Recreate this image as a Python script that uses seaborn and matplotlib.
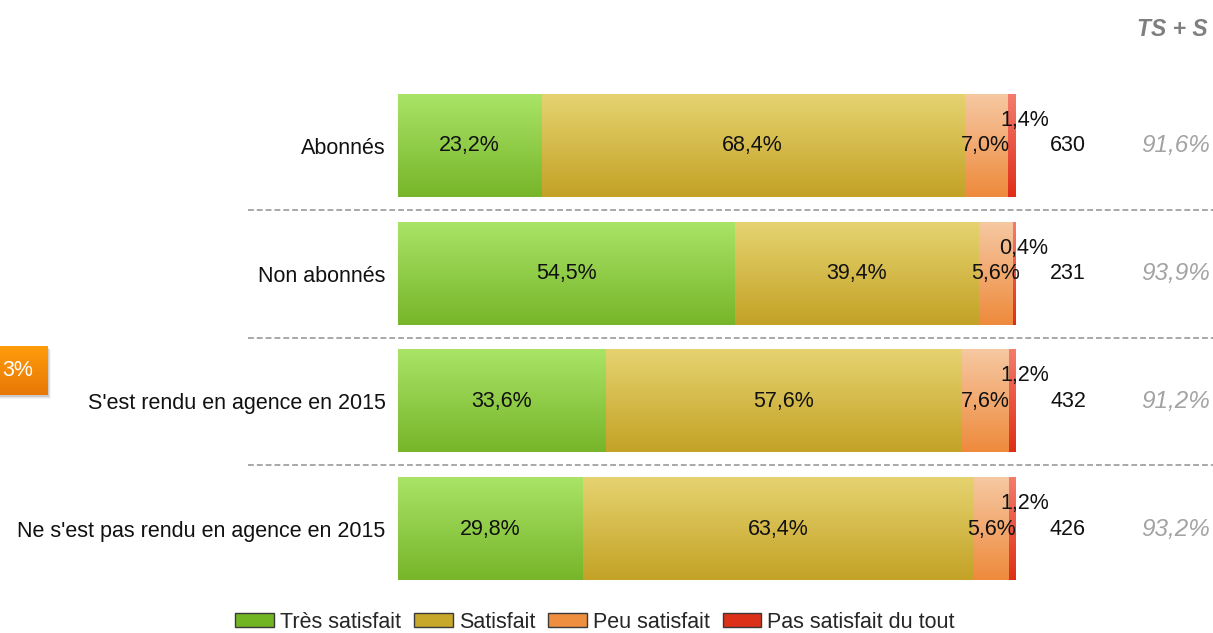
import numpy as np
import pandas as pd
import matplotlib
matplotlib.use("Agg")
import matplotlib.pyplot as plt
import matplotlib.transforms as mtransforms
from matplotlib.colors import LinearSegmentedColormap
from matplotlib.patches import Patch, Rectangle
import seaborn as sns

# --- data -------------------------------------------------------------
groups = ["Abonnés", "Non abonnés", "S'est rendu en agence en 2015",
          "Ne s'est pas rendu en agence en 2015"]
levels = ["Très satisfait", "Satisfait", "Peu satisfait", "Pas satisfait du tout"]
tres_satisfait = [23.2, 54.5, 33.6, 29.8]
satisfait = [68.4, 39.4, 57.6, 63.4]
peu_satisfait = [7.0, 5.6, 7.6, 5.6]
pas_satisfait = [1.4, 0.4, 1.2, 1.2]
effectifs = [630, 231, 432, 426]

# gradient (top, bottom) per level and flat legend colours
grad_colors = [("#a9e466", "#77b52a"), ("#e6d370", "#c3a226"),
               ("#f6c8a2", "#ee8a3c"), ("#f47c6c", "#de2e18")]
legend_colors = ["#72b523", "#c8a82a", "#ee8f40", "#dc3018"]


def fmt(v):
    return f"{v:.1f}".replace(".", ",") + "%"


sns.set_theme(style="white")
plt.rcParams["font.family"] = ["Liberation Sans", "DejaVu Sans"]

W, H = 1213, 633
fig = plt.figure(figsize=(W / 100, H / 100), dpi=100)
ax = fig.add_axes([398 / W, 40 / H, 618 / W, 511 / H])

values = np.array([tres_satisfait, satisfait, peu_satisfait, pas_satisfait])
cum = np.cumsum(values, axis=0)

# stacked bars: cumulative totals drawn from the widest to the narrowest
z = 2
for li in range(len(levels) - 1, -1, -1):
    df = pd.DataFrame({"groupe": groups, "cumul": cum[li]})
    n_before = len(ax.patches)
    sns.barplot(data=df, y="groupe", x="cumul", orient="h", ax=ax,
                color=legend_colors[li], saturation=1, width=0.8,
                edgecolor="none", linewidth=0, errorbar=None)
    cmap = LinearSegmentedColormap.from_list(f"g{li}", grad_colors[li])
    grad = np.linspace(0, 1, 128).reshape(-1, 1)
    for p in ax.patches[n_before:]:
        x0, y0 = p.get_x(), p.get_y()
        w, h = p.get_width(), p.get_height()
        p.set_zorder(z)
        ax.imshow(grad, cmap=cmap, aspect="auto", origin="upper",
                  extent=(x0, x0 + w, y0 + h, y0), zorder=z + 0.5,
                  interpolation="bilinear")
    z += 1

ax.set_xlim(0, 100)
ax.set_ylim(3.5, -0.5)

# value labels
for gi in range(len(groups)):
    starts = np.concatenate([[0], cum[:-1, gi]])
    for li in range(3):
        ax.text(starts[li] + values[li, gi] / 2, gi, fmt(values[li, gi]),
                ha="center", va="center", fontsize=15.5, color="#111111",
                zorder=20)
    ax.annotate(fmt(values[3, gi]), (cum[3, gi], gi - 0.2),
                xytext=(6, 0), textcoords="offset points",
                ha="center", va="center", fontsize=15.5, color="#111111",
                zorder=20, annotation_clip=False)

# base counts and TS + S totals to the right
tr = mtransforms.blended_transform_factory(fig.transFigure, ax.transData)
for gi in range(len(groups)):
    ax.text(1068 / W, gi, str(effectifs[gi]), transform=tr, ha="center",
            va="center", fontsize=15.5, color="#111111")
    ts_s = tres_satisfait[gi] + satisfait[gi]
    ax.text(1210 / W, gi, fmt(ts_s), transform=tr, ha="right", va="center",
            fontsize=17.5, style="italic", color="#a3a3a3")

fig.text(1208 / W, 1 - 30 / H, "TS + S", ha="right", va="center",
         fontsize=16.5, style="italic", weight="bold", color="#7f7f7f")

# dashed separators between rows
for y in [0.5, 1.5, 2.5]:
    ax.plot([248 / W, 1.0], [y, y], transform=tr, clip_on=False,
            color="#9a9a9a", linewidth=1.2, linestyle=(0, (3.5, 1.8)))

# axes styling
ax.set_xlabel("")
ax.set_ylabel("")
ax.set_xticks([])
ax.tick_params(axis="y", length=0, pad=9, labelsize=15.5, labelcolor="#111111")
sns.despine(ax=ax, left=True, bottom=True)

# legend
handles = [Patch(facecolor=c, edgecolor="#3a3a3a", linewidth=1) for c in legend_colors]
fig.legend(handles, levels, loc="center", bbox_to_anchor=(595 / W, 1 - 622 / H),
           ncol=4, frameon=False, fontsize=15.5, handlelength=1.8,
           handleheight=0.65, handletextpad=0.28, columnspacing=0.6,
           borderpad=0)

# orange tag on the left edge, with a soft drop shadow behind it
for k, a in enumerate([0.10, 0.07, 0.04]):
    sh = fig.add_axes([(-60 + 1 + k) / W, 1 - (397 + k) / H, 108 / W, 49 / H])
    sh.add_patch(Rectangle((0, 0), 1, 1, transform=sh.transAxes,
                           facecolor="black", alpha=a, edgecolor="none"))
    sh.set_axis_off()
    sh.set_zorder(0.5)
tag = fig.add_axes([-60 / W, 1 - 395 / H, 108 / W, 49 / H])
tag.imshow(np.linspace(0, 1, 64).reshape(-1, 1), aspect="auto",
           cmap=LinearSegmentedColormap.from_list("tag", ["#ff9c0a", "#e87806"]),
           extent=(0, 1, 0, 1), origin="upper")
tag.set_axis_off()
tag.set_zorder(1)
fig.text(2 / W, 1 - 371 / H, "3%", ha="left", va="center", fontsize=15.5,
         color="white", zorder=5)

fig.savefig("out.png", dpi=100)
